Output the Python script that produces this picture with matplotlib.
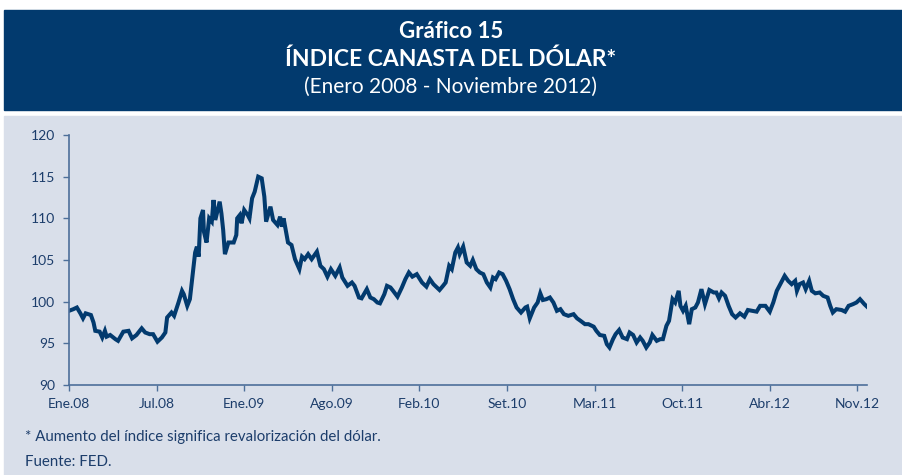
import matplotlib
matplotlib.use("Agg")
import matplotlib.pyplot as plt
from matplotlib.patches import Rectangle

# Dollar index (trade-weighted), Jan 2008 - Nov 2012
x_pos = [0, 5, 9, 13, 16, 19, 25, 28, 30, 35, 38, 41, 43, 47, 53, 56, 62, 68, 72, 77,
         83, 87, 92, 96, 101, 106, 110, 112, 117, 120, 125, 129, 131, 135, 138, 141, 144, 146, 148, 150,
         153, 154, 157, 160, 163, 165, 167, 172, 174, 176, 178, 182, 188, 191, 192, 195, 197, 200, 204, 206,
         209, 212, 216, 220, 223, 225, 230, 233, 238, 241, 243, 245, 250, 254, 258, 263, 266, 269, 273, 277,
         283, 287, 291, 295, 299, 304, 309, 312, 318, 323, 326, 331, 334, 340, 344, 348, 352, 355, 360, 363,
         367, 370, 375, 380, 384, 388, 392, 397, 403, 408, 412, 416, 423, 427, 430, 434, 437, 441, 444, 446,
         450, 454, 458, 461, 465, 469, 473, 477, 481, 484, 487, 491, 495, 499, 503, 507, 511, 516, 521, 523,
         526, 531, 535, 538, 541, 545, 549, 553, 557, 561, 565, 570, 576, 580, 584, 589, 593, 599, 602, 606,
         611, 614, 617, 621, 624, 628, 632, 637, 640, 644, 648, 652, 655, 659, 663, 666, 671, 675, 678, 682,
         685, 689, 692, 696, 698, 701, 704, 708, 711, 715, 718, 722, 726, 731, 736, 739, 742, 745, 749, 753,
         757, 761, 766, 771, 775, 780, 785, 789, 795, 800, 804, 808, 812, 817, 821, 825, 829, 831, 834, 838,
         841, 845, 848, 852, 857, 861, 866, 869, 872, 876, 882, 886, 890, 895, 899, 903, 908, 911]
indice = [98.9, 99.1, 99.3, 98.6, 98.0, 98.6, 98.4, 97.5, 96.5, 96.4, 95.7, 96.5, 95.8, 96.0, 95.5, 95.3, 96.4, 96.5, 95.6, 96.0,
          96.8, 96.3, 96.1, 96.1, 95.2, 95.7, 96.3, 98.1, 98.7, 98.3, 99.9, 101.3, 100.9, 99.5, 100.3, 103.1, 105.9, 106.6, 105.4, 110.0,
          111.0, 108.4, 107.1, 110.0, 109.6, 112.2, 109.8, 112.0, 110.6, 108.6, 105.7, 107.1, 107.1, 108.0, 110.0, 110.4, 109.4, 111.0, 110.4, 110.0,
          112.4, 113.2, 115.0, 114.8, 112.6, 109.6, 111.4, 109.8, 109.2, 110.2, 109.0, 110.0, 107.1, 106.8, 105.1, 103.9, 105.4, 105.1, 105.7, 105.1,
          106.0, 104.3, 103.9, 103.0, 103.9, 103.1, 104.1, 102.9, 101.9, 102.3, 101.9, 100.5, 100.4, 101.5, 100.5, 100.3, 99.9, 99.8, 100.9, 101.9,
          101.7, 101.3, 100.6, 101.7, 102.7, 103.5, 103.0, 103.3, 102.3, 101.8, 102.7, 102.1, 101.4, 101.9, 102.3, 104.3, 103.9, 105.9, 106.5, 105.7,
          106.6, 104.7, 104.3, 105.0, 103.9, 103.5, 103.3, 102.3, 101.7, 102.9, 102.7, 103.5, 103.3, 102.5, 101.5, 100.3, 99.3, 98.7, 99.3, 99.4,
          98.0, 99.3, 99.9, 101.0, 100.2, 100.3, 100.5, 99.9, 98.9, 99.1, 98.5, 98.3, 98.5, 98.0, 97.7, 97.3, 97.3, 97.0, 96.5, 96.0,
          95.9, 94.9, 94.5, 95.5, 96.1, 96.6, 95.7, 95.5, 96.3, 96.0, 95.1, 95.7, 95.3, 94.5, 95.1, 96.0, 95.3, 95.5, 95.5, 97.1,
          97.7, 100.3, 99.9, 101.3, 99.5, 98.9, 99.5, 97.3, 99.1, 99.3, 99.9, 101.5, 99.7, 101.4, 101.1, 101.1, 100.4, 101.1, 100.7, 99.5,
          98.5, 98.1, 98.6, 98.2, 99.0, 98.9, 98.8, 99.5, 99.5, 98.8, 99.9, 101.3, 102.1, 103.1, 102.5, 102.1, 102.5, 101.3, 102.1, 102.3,
          101.5, 102.5, 101.3, 101.0, 101.1, 100.7, 100.5, 99.5, 98.7, 99.1, 99.0, 98.8, 99.5, 99.7, 99.9, 100.3, 99.7, 99.4]

tick_pos = [0, 100, 200, 300, 400, 500, 600, 700, 800, 900]
tick_labels = ["Ene.08", "Jul.08", "Ene.09", "Ago.09", "Feb.10",
               "Set.10", "Mar.11", "Oct.11", "Abr.12", "Nov.12"]

navy = "#023a6e"
panel_bg = "#d9dfea"
axis_col = "#4d6f9a"
text_col = "#1c3d6b"

plt.rcParams['font.family'] = ['Lato', 'DejaVu Sans']

fig = plt.figure(figsize=(9.02, 4.75), dpi=100)
fig.patch.set_facecolor("white")

# header band and grey panel (behind the axes)
fig.patches.append(Rectangle((4 / 902, 1 - 110 / 475), 1, 100 / 475,
                             transform=fig.transFigure, color=navy, zorder=-10))
fig.patches.append(Rectangle((4 / 902, 0), 1, 1 - 116 / 475,
                             transform=fig.transFigure, color=panel_bg, zorder=-10))

fig.text(0.5, 1 - 32 / 475, "Gráfico 15", color="white", fontsize=16,
         fontweight="bold", ha="center", va="center")
fig.text(0.5, 1 - 59 / 475, "ÍNDICE CANASTA DEL DÓLAR*", color="white", fontsize=16.5,
         fontweight="bold", ha="center", va="center")
fig.text(0.5, 1 - 87 / 475, "(Enero 2008 - Noviembre 2012)", color="white", fontsize=15,
         ha="center", va="center")

ax = fig.add_axes([69 / 902, 90 / 475, 798 / 902, 250 / 475])
ax.set_facecolor("none")
ax.plot(x_pos, indice, color=navy, linewidth=2.9, solid_joinstyle="miter")

ax.set_xlim(0, 911)
ax.set_ylim(90, 120)
ax.set_yticks([90, 95, 100, 105, 110, 115, 120])
ax.set_xticks(tick_pos)
ax.set_xticklabels(tick_labels)

for side in ["top", "right"]:
    ax.spines[side].set_visible(False)
for side in ["left", "bottom"]:
    ax.spines[side].set_color(axis_col)
    ax.spines[side].set_linewidth(1.2)
ax.tick_params(axis="both", colors=axis_col, labelcolor=text_col, labelsize=10,
               direction="out", length=4, width=1)
ax.tick_params(axis="y", pad=6)
ax.tick_params(axis="x", pad=5)

fig.text(25 / 902, 1 - 437 / 475, "* Aumento del índice significa revalorización del dólar.",
         color=text_col, fontsize=10.8, va="center")
fig.text(25 / 902, 1 - 462 / 475, "Fuente: FED.", color=text_col, fontsize=10.8, va="center")

fig.savefig("out.png", dpi=100)
